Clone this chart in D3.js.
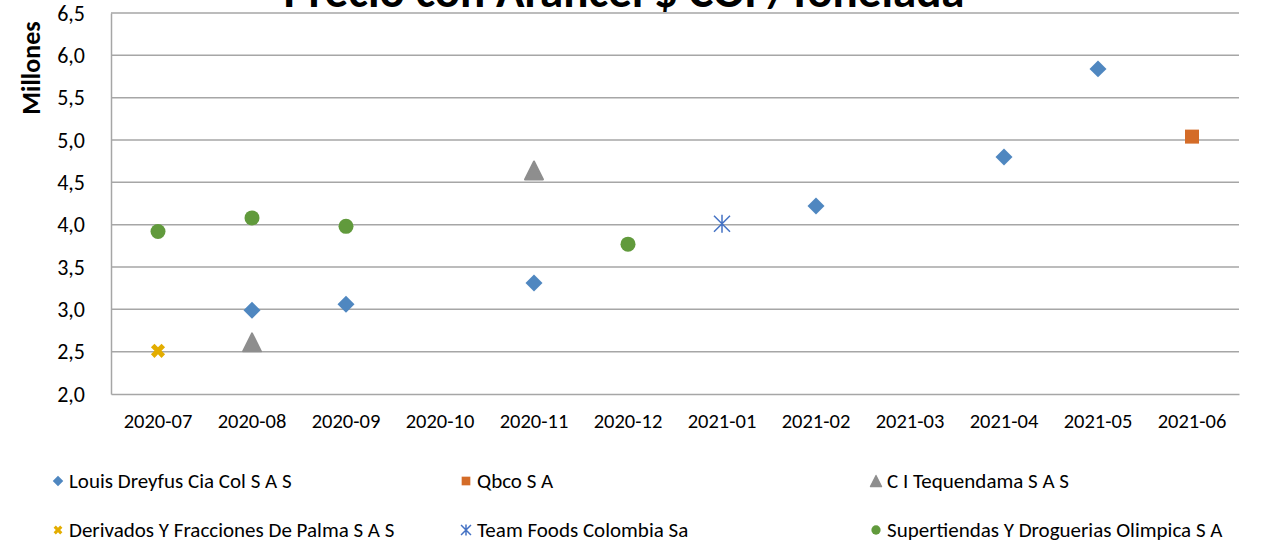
<!DOCTYPE html>
<meta charset="utf-8"/>
<title>Precio con Arancel</title>
<style>
    body { margin: 0; background: #fff; }
    text { font-family: Carlito, Lato, "Open Sans", sans-serif; fill: #000; }
    .grid line { stroke: #a6a6a6; stroke-width: 1.5px; }
    .axis path, .axis line { stroke: #a6a6a6; stroke-width: 1.5px; }
</style>
<script src="https://cdn.jsdelivr.net/npm/d3@7"></script>
<svg id="chart" width="1268" height="543"></svg>
<script>
    "use strict";

    // months on the x axis
    const months = ["2020-07", "2020-08", "2020-09", "2020-10", "2020-11", "2020-12",
        "2021-01", "2021-02", "2021-03", "2021-04", "2021-05", "2021-06"];
    const yTicks = [2.0, 2.5, 3.0, 3.5, 4.0, 4.5, 5.0, 5.5, 6.0, 6.5];

    // price in millions COP per tonne, by buyer
    const louisDreyfus = [["2020-08", 2.99], ["2020-09", 3.06], ["2020-11", 3.31],
        ["2021-02", 4.22], ["2021-04", 4.80], ["2021-05", 5.84]];
    const qbco = [["2021-06", 5.04]];
    const tequendama = [["2020-08", 2.61], ["2020-11", 4.64]];
    const derivados = [["2020-07", 2.51]];
    const teamFoods = [["2021-01", 4.01]];
    const olimpica = [["2020-07", 3.92], ["2020-08", 4.08], ["2020-09", 3.98], ["2020-12", 3.77]];

    const series = [
        {name: "Louis Dreyfus Cia Col S A S", data: louisDreyfus, shape: "diamond", color: "#4f87c0"},
        {name: "Qbco S A", data: qbco, shape: "square", color: "#d46c28"},
        {name: "C I Tequendama S A S", data: tequendama, shape: "triangle", color: "#8e8e8e"},
        {name: "Derivados Y Fracciones De Palma S A S", data: derivados, shape: "cross", color: "#e3ad00"},
        {name: "Team Foods Colombia Sa", data: teamFoods, shape: "star", color: "#4472c4"},
        {name: "Supertiendas Y Droguerias Olimpica S A", data: olimpica, shape: "circle", color: "#619a3c"}
    ];

    const margin = {left: 111, right: 29, top: 13, bottom: 149};
    const width = 1268, height = 543;
    const svg = d3.select("#chart");

    const x = d3.scaleBand().domain(months).range([margin.left, width - margin.right]);
    const y = d3.scaleLinear().domain([2, 6.5]).range([height - margin.bottom, margin.top]);

    // horizontal gridlines
    svg.append("g").attr("class", "grid")
        .selectAll("line").data(yTicks.slice(1)).join("line")
        .attr("x1", margin.left).attr("x2", width - margin.right)
        .attr("y1", d => y(d)).attr("y2", d => y(d));

    const fmt = d => d3.format(".1f")(d).replace(".", ",");

    svg.append("g").attr("class", "axis")
        .attr("transform", "translate(" + margin.left + ",0)")
        .call(d3.axisLeft(y).tickValues(yTicks).tickFormat(fmt).tickSize(0).tickPadding(26))
        .call(g => g.selectAll("text").attr("font-size", 22).attr("font-family", "Carlito, Lato, sans-serif"));

    svg.append("g").attr("class", "axis")
        .attr("transform", "translate(0," + y(2) + ")")
        .call(d3.axisBottom(x).tickSize(0).tickPadding(19))
        .call(g => g.selectAll("text").attr("font-size", 20.5).attr("font-family", "Carlito, Lato, sans-serif"));

    // title (partly clipped at the top, as in the source)
    svg.append("text")
        .attr("x", 624).attr("y", 7)
        .attr("text-anchor", "middle")
        .attr("font-size", 47).attr("font-weight", "bold")
        .text("Precio con Arancel $ COP/Tonelada");

    svg.append("text")
        .attr("transform", "translate(40,68) rotate(-90)")
        .attr("text-anchor", "middle")
        .attr("font-size", 26).attr("font-weight", "bold")
        .text("Millones");

    // marker drawing
    function marker(g, shape, color, k)
    {
        if (shape === "diamond")
        {
            g.append("path").attr("d", d3.symbol(d3.symbolSquare, 144 * k * k)())
                .attr("transform", "rotate(45)").attr("fill", color);
        }
        else if (shape === "square")
        {
            g.append("path").attr("d", d3.symbol(d3.symbolSquare, 196 * k * k)()).attr("fill", color);
        }
        else if (shape === "circle")
        {
            g.append("circle").attr("r", 7.5 * k).attr("fill", color);
        }
        else if (shape === "triangle")
        {
            const h = 9 * k;
            g.append("path")
                .attr("d", "M0," + (-h) + "L" + h + "," + h + "L" + (-h) + "," + h + "Z")
                .attr("fill", color).attr("stroke", color)
                .attr("stroke-width", 2 * k).attr("stroke-linejoin", "round");
        }
        else if (shape === "cross")
        {
            g.append("path").attr("d", d3.symbol(d3.symbolCross, 125 * k * k)())
                .attr("transform", "rotate(45)").attr("fill", color);
        }
        else if (shape === "star")
        {
            const r = 9 * k, c = 8 * k;
            g.append("path")
                .attr("d", "M0," + (-r) + "V" + r + "M" + (-c) + "," + (-c) + "L" + c + "," + c
                    + "M" + c + "," + (-c) + "L" + (-c) + "," + c)
                .attr("stroke", color).attr("stroke-width", 1.5).attr("fill", "none");
        }
    }

    const points = svg.append("g");
    series.forEach(function (s)
    {
        s.data.forEach(function (d)
        {
            const g = points.append("g")
                .attr("transform", "translate(" + (x(d[0]) + x.bandwidth() / 2) + "," + y(d[1]) + ")");
            marker(g, s.shape, s.color, 1);
        });
    });

    // legend, 3 columns x 2 rows
    const legendCols = [58, 466, 876];
    const legendRows = [481, 530];
    const legend = svg.append("g");
    series.forEach(function (s, i)
    {
        const g = legend.append("g")
            .attr("transform", "translate(" + legendCols[i % 3] + "," + legendRows[Math.floor(i / 3)] + ")");
        marker(g, s.shape, s.color, 0.62);
        g.append("text").attr("x", 11).attr("dy", "0.35em")
            .attr("font-size", 21).text(s.name);
    });
</script>
